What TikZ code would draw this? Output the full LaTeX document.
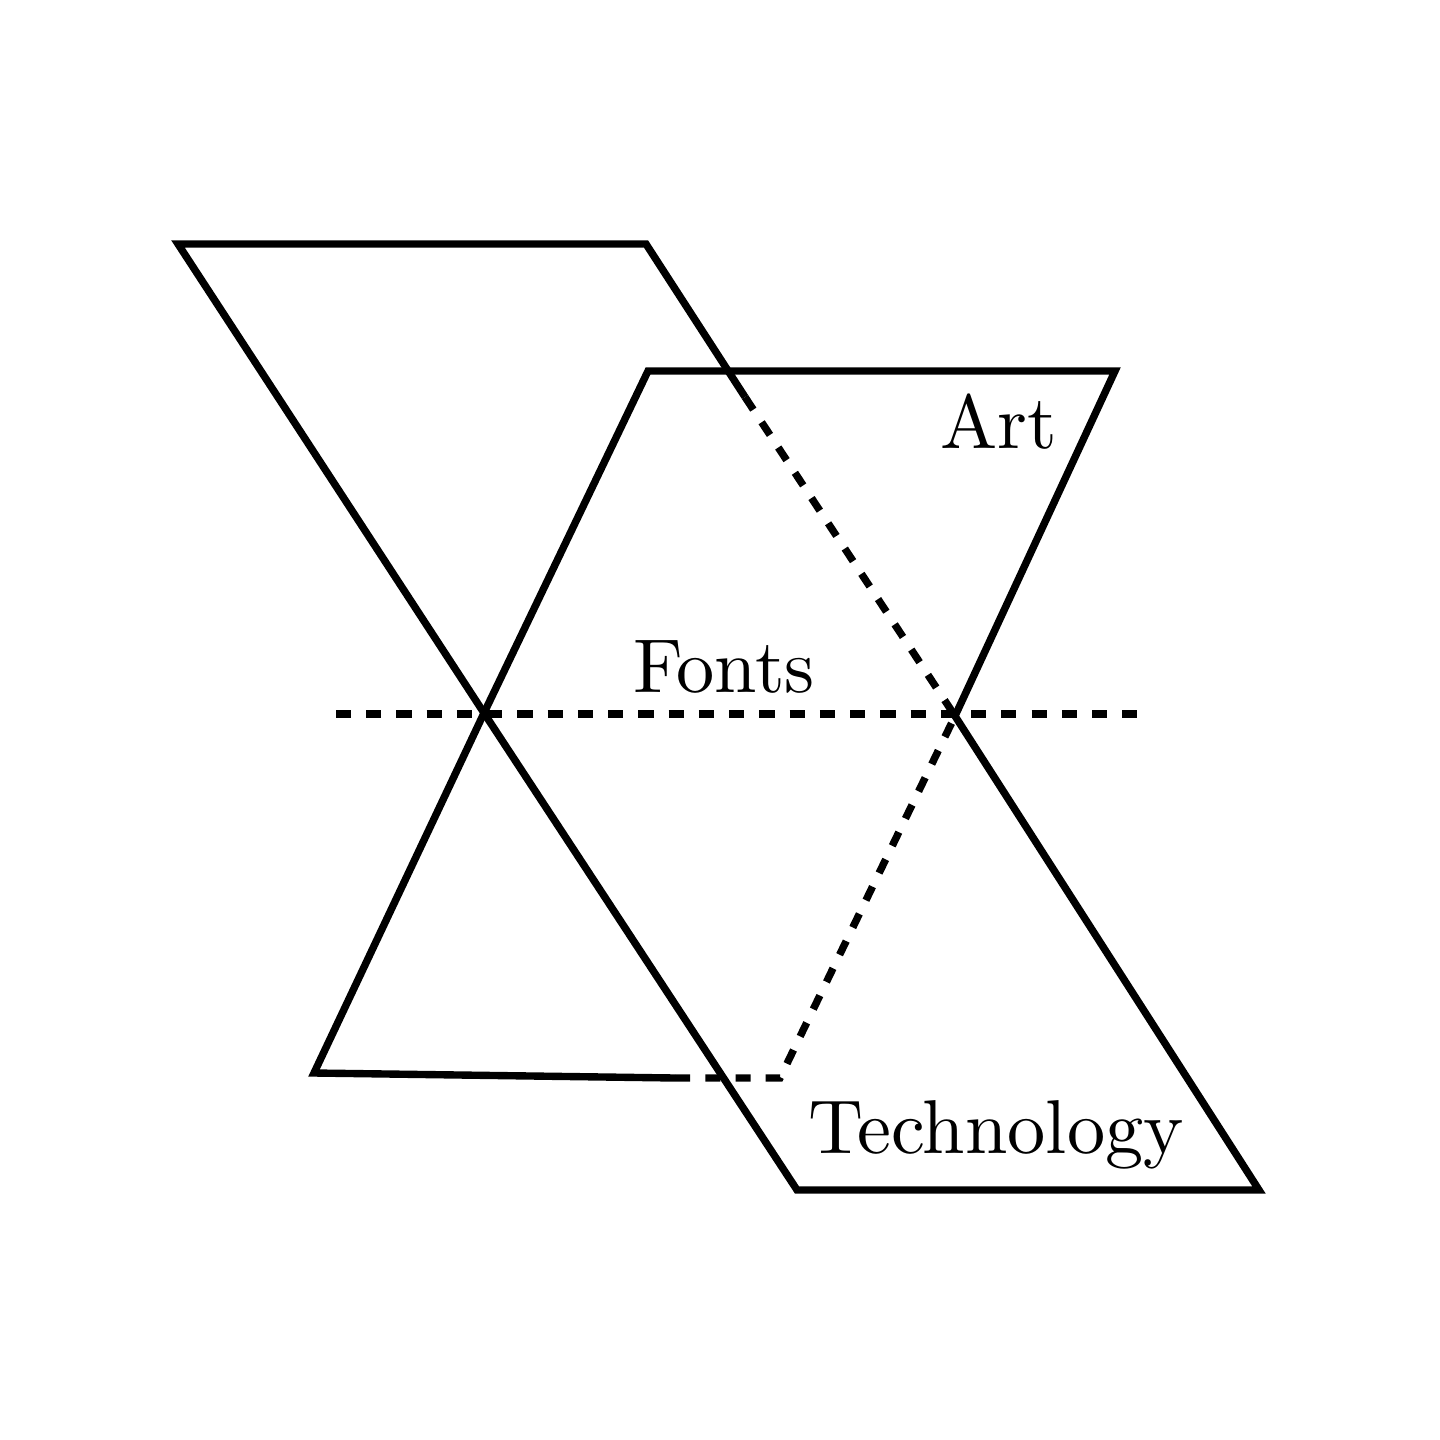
\documentclass[tikz,border=0pt]{standalone}
\begin{document}
\begin{tikzpicture}[x=0.01cm,y=-0.01cm,
  edge/.style={line width=2.1pt,line join=miter,line cap=butt},
  dashedge/.style={line width=2.1pt,dash pattern=on 4.3pt off 4.3pt},
  lbl/.style={anchor=base,inner sep=0pt}]
\newcommand{\bigtxt}[1]{\scalebox{2.17}{\fontsize{10}{12}\selectfont #1}}
\useasboundingbox[fill=white] (0,0) rectangle (1440,1440);
% named points
\coordinate (A1) at (178,244);
\coordinate (A2) at (646,244);
\coordinate (A3) at (745,397);
\coordinate (X) at (484,713);
\coordinate (Y) at (955,716);
\coordinate (B1) at (648,371);
\coordinate (B2) at (1115,371);
\coordinate (C1) at (314,1073);
\coordinate (C2) at (675,1078);
\coordinate (C3) at (780,1078);
\coordinate (D1) at (1259,1190);
\coordinate (D2) at (797,1190);
\coordinate (H1) at (336,714);
\coordinate (H2) at (1140,714);
% top-left parallelogram
\draw[edge] (X) -- (A1) -- (A2) -- (A3);
\draw[dashedge] (A3) -- (Y);
% top-right trapezoid
\draw[edge] (X) -- (B1) -- (B2) -- (Y);
% bottom-left
\draw[edge] (X) -- (C1) -- (C2);
\draw[dashedge] (C2) -- (C3) -- (Y);
% bottom-right
\draw[edge] (Y) -- (D1) -- (D2) -- (X);
% horizontal dashed line
\draw[dashedge] (H1) -- (H2);
% labels
\node[lbl] (art) at (999,449) {\bigtxt{Art}};
\node[lbl] (fonts) at (724,692) {\bigtxt{Fonts}};
\node[lbl] (tech) at (996,1153) {\bigtxt{Technology}};
\end{tikzpicture}
\end{document}
